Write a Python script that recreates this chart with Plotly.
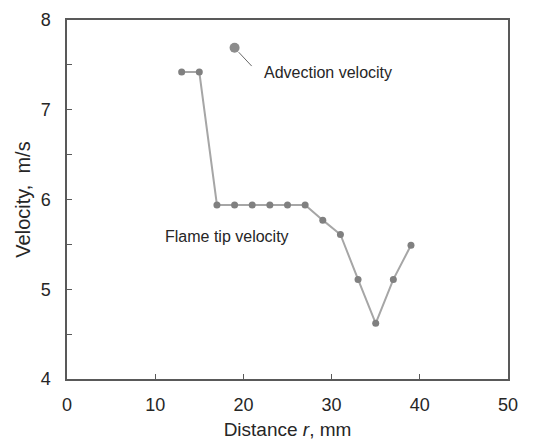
import plotly.graph_objects as go

distance_mm = [13, 15, 17, 19, 21, 23, 25, 27, 29, 31, 33, 35, 37, 39]
flame_tip_velocity = [7.42, 7.42, 5.94, 5.94, 5.94, 5.94, 5.94, 5.94, 5.77, 5.61, 5.11, 4.62, 5.11, 5.49]
advection_x = [19]
advection_y = [7.69]

axis_color = "#595959"
font_family = "Liberation Sans, Arial, sans-serif"

fig = go.Figure()
fig.add_trace(go.Scatter(
    x=distance_mm, y=flame_tip_velocity, mode="lines+markers",
    line=dict(color="#a6a6a6", width=2),
    marker=dict(color="#808080", size=7),
    showlegend=False,
))
fig.add_trace(go.Scatter(
    x=advection_x, y=advection_y, mode="markers",
    marker=dict(color="#8c8c8c", size=10),
    showlegend=False,
))

fig.add_annotation(x=advection_x[0], y=advection_y[0], ax=21.1, ay=7.47,
                   axref="x", ayref="y", xref="x", yref="y",
                   showarrow=True, arrowhead=0, arrowwidth=0.8, arrowcolor="#404040",
                   standoff=6, text="")
fig.add_annotation(x=22.1, y=7.41, xref="x", yref="y", text="Advection velocity",
                   showarrow=False, xanchor="left", yanchor="middle",
                   font=dict(size=16, color="#262626", family=font_family))
fig.add_annotation(x=10.9, y=5.59, xref="x", yref="y", text="Flame tip velocity",
                   showarrow=False, xanchor="left", yanchor="middle",
                   font=dict(size=16, color="#262626", family=font_family))

fig.update_layout(
    width=543, height=440,
    margin=dict(l=67, r=35, t=20, b=61),
    paper_bgcolor="white", plot_bgcolor="white",
    font=dict(family=font_family, color="#262626"),
)
fig.update_xaxes(
    range=[0, 50], dtick=10, tick0=0, automargin=False,
    showgrid=False, zeroline=False,
    showline=True, linecolor=axis_color, linewidth=1.5, mirror=True,
    ticks="inside", ticklen=5, tickcolor=axis_color,
    ticklabelstandoff=9,
    tickfont=dict(size=18, color="#262626"),
    title=dict(text="Distance <i>r</i>, mm", font=dict(size=19, color="#262626"), standoff=11),
)
fig.update_yaxes(
    range=[4, 8], dtick=1, tick0=4, automargin=False,
    showgrid=False, zeroline=False,
    showline=True, linecolor=axis_color, linewidth=1.5, mirror=True,
    ticks="inside", ticklen=5, tickcolor=axis_color,
    ticklabelstandoff=11,
    minor=dict(dtick=0.5, ticks="inside", ticklen=5, tickcolor=axis_color, showgrid=False),
    tickfont=dict(size=18, color="#262626"),
    title=dict(text="Velocity,  m/s", font=dict(size=20, color="#262626"), standoff=5),
)

fig.write_html("out.html")
